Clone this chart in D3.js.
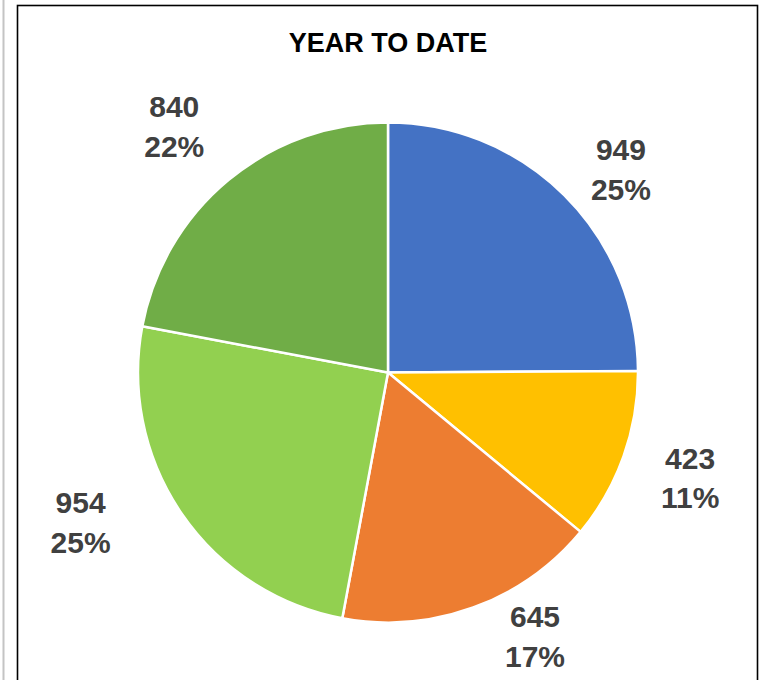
<!DOCTYPE html>
<html>
<head>
<meta charset="utf-8">
<script src="https://cdn.jsdelivr.net/npm/d3@7/dist/d3.min.js"></script>
<style>
  html, body { margin: 0; padding: 0; background: #fff; }
  svg { display: block; }
</style>
</head>
<body>
<script>
// ---- data ----
const title = "YEAR TO DATE";
const categories = ["A", "B", "C", "D", "E"];
const values = [949, 423, 645, 954, 840];
const colors = ["#4472C4", "#FFC000", "#ED7D31", "#92D050", "#70AD47"];

// label placement tweaks (angle offset in degrees, radius in px) — layout only
const labelAngleNudge = [4.1, -0.4, -9.2, 8.4, -1.3];
const labelRadius = [309, 320, 302, 342, 326];

const W = 760, H = 680;
const cx = 388, cy = 372.5, R = 250;

const svg = d3.select("body").append("svg")
  .attr("width", W).attr("height", H);

svg.append("rect").attr("width", W).attr("height", H).attr("fill", "#fff");

// outer sheet line and chart border
svg.append("line")
  .attr("x1", 3.5).attr("x2", 3.5).attr("y1", 0).attr("y2", H)
  .attr("stroke", "#c4c4c4").attr("stroke-width", 2);
svg.append("rect")
  .attr("x", 17.5).attr("y", 5.5)
  .attr("width", 740).attr("height", H + 20)
  .attr("fill", "none").attr("stroke", "#000").attr("stroke-width", 1.6);

svg.append("text")
  .attr("x", cx).attr("y", 52)
  .attr("text-anchor", "middle")
  .attr("font-family", "'Liberation Sans', Arial, sans-serif")
  .attr("font-weight", "bold")
  .attr("font-size", 27)
  .attr("fill", "#000")
  .text(title);

const total = d3.sum(values);
const pie = d3.pie().sort(null).value(d => d.value);
const data = pie(categories.map((c, i) => ({ cat: c, value: values[i], i })));

const arc = d3.arc().innerRadius(0).outerRadius(R);

const g = svg.append("g").attr("transform", `translate(${cx},${cy})`);

g.selectAll("path.slice")
  .data(data)
  .join("path")
  .attr("class", "slice")
  .attr("d", arc)
  .attr("fill", d => colors[d.data.i])
  .attr("stroke", "#fff")
  .attr("stroke-width", 2.5)
  .attr("stroke-linejoin", "round");

const fmtPct = d3.format(".0%");

const labels = g.selectAll("g.lbl")
  .data(data)
  .join("g")
  .attr("class", "lbl")
  .attr("transform", d => {
    const i = d.data.i;
    const mid = (d.startAngle + d.endAngle) / 2 + labelAngleNudge[i] * Math.PI / 180;
    const lr = labelRadius[i];
    const la = d3.arc().innerRadius(lr).outerRadius(lr);
    const [x, y] = la.centroid({ startAngle: mid, endAngle: mid });
    return `translate(${x},${y})`;
  });

labels.append("text")
  .attr("text-anchor", "middle")
  .attr("font-family", "'Liberation Sans', Arial, sans-serif")
  .attr("font-weight", "bold")
  .attr("font-size", 30)
  .attr("fill", "#404040")
  .selectAll("tspan")
  .data(d => [String(d.data.value), fmtPct(d.data.value / total)])
  .join("tspan")
  .attr("x", 0)
  .attr("y", (t, j) => j === 0 ? -9 : 30.5)
  .text(t => t);
</script>
</body>
</html>
